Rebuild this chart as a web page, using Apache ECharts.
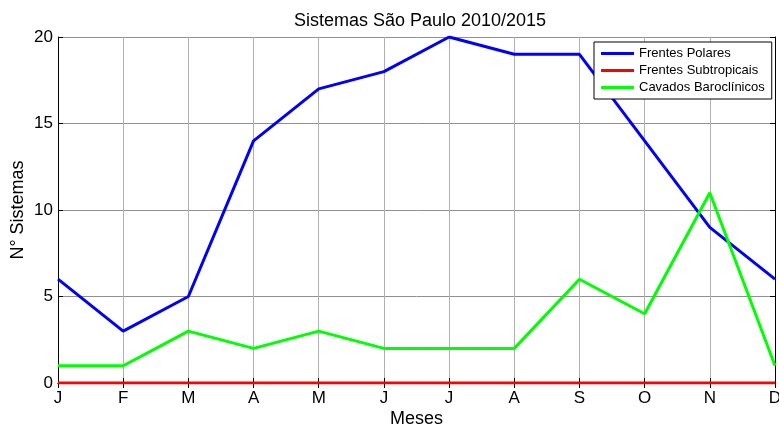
<!DOCTYPE html>
<html><head><meta charset="utf-8">
<script src="https://cdn.jsdelivr.net/npm/echarts@6/dist/echarts.min.js"></script>
<style>html,body{margin:0;padding:0;background:#fff}#c{width:779px;height:428px}</style>
</head><body><div id="c"></div>
<script>
const months = ['J','F','M','A','M','J','J','A','S','O','N','D'];
const frentesPolares = [6,3,5,14,17,18,20,19,19,14,9,6];
const frentesSubtropicais = [0,0,0,0,0,0,0,0,0,0,0,0];
const cavadosBaroclinicos = [1,1,3,2,3,2,2,2,6,4,11,1];
const yTicks = [0,5,10,15,20];

const font = 'Liberation Sans, Arial, sans-serif';
const chart = echarts.init(document.getElementById('c'));
chart.setOption({
  backgroundColor:'#fff',
  animation:false,
  title:{text:'Sistemas São Paulo 2010/2015',left:415,textAlign:'center',top:7,
    textStyle:{fontFamily:font,fontSize:18,fontWeight:'normal',color:'#000'}},
  grid:{left:58,right:4,top:37,bottom:45,show:false,containLabel:false,outerBoundsMode:'none'},
  legend:{orient:'vertical',left:594,top:42,padding:[5,7,5,7],itemGap:4,
    backgroundColor:'#fff',borderColor:'#000',borderWidth:1,borderRadius:0,
    itemWidth:33,itemHeight:3,icon:'rect',
    textStyle:{fontFamily:font,fontSize:13,color:'#000'},
    data:['Frentes Polares','Frentes Subtropicais','Cavados Baroclínicos']},
  xAxis:[{type:'category',data:months,boundaryGap:false,
    name:'Meses',nameLocation:'middle',nameGap:27,nameMoveOverlap:false,
    nameTextStyle:{fontFamily:font,fontSize:18,color:'#000'},
    axisLine:{lineStyle:{color:'#000',width:1}},
    axisTick:{inside:true,length:5,lineStyle:{color:'#000'}},
    axisLabel:{fontFamily:font,fontSize:17,color:'#000',margin:7,interval:0},
    splitLine:{show:true,lineStyle:{color:'#b0b0b0',width:1}}},
   {type:'category',data:months,boundaryGap:false,position:'top',
    axisLine:{lineStyle:{color:'#000'}},
    axisTick:{inside:true,length:5,lineStyle:{color:'#000'}},
    axisLabel:{show:false},splitLine:{show:false}}],
  yAxis:[{type:'value',min:0,max:20,interval:5,
    name:'N° Sistemas',nameLocation:'middle',nameGap:31,nameMoveOverlap:false,
    nameTextStyle:{fontFamily:font,fontSize:18,color:'#000'},
    axisLine:{show:true,lineStyle:{color:'#000'}},
    axisTick:{show:true,inside:true,length:5,lineStyle:{color:'#000'}},
    axisLabel:{fontFamily:font,fontSize:17,color:'#000',margin:5},
    splitLine:{show:true,lineStyle:{color:'#909090',width:1}}},
   {type:'value',min:0,max:20,interval:5,position:'right',
    axisLine:{show:true,lineStyle:{color:'#000'}},
    axisTick:{show:true,inside:true,length:5,lineStyle:{color:'#000'}},
    axisLabel:{show:false},splitLine:{show:false}}],
  series:[
    {name:'Frentes Polares',type:'line',data:frentesPolares,showSymbol:false,symbol:'none',
     lineStyle:{color:'#0000ff',width:3},itemStyle:{color:'#0000ff'},z:3},
    {name:'Frentes Subtropicais',type:'line',data:frentesSubtropicais,showSymbol:false,symbol:'none',
     lineStyle:{color:'#ff0000',width:3},itemStyle:{color:'#ff0000'},z:4},
    {name:'Cavados Baroclínicos',type:'line',data:cavadosBaroclinicos,showSymbol:false,symbol:'none',
     lineStyle:{color:'#00ff00',width:3},itemStyle:{color:'#00ff00'},z:5}
  ]
});
</script></body></html>
